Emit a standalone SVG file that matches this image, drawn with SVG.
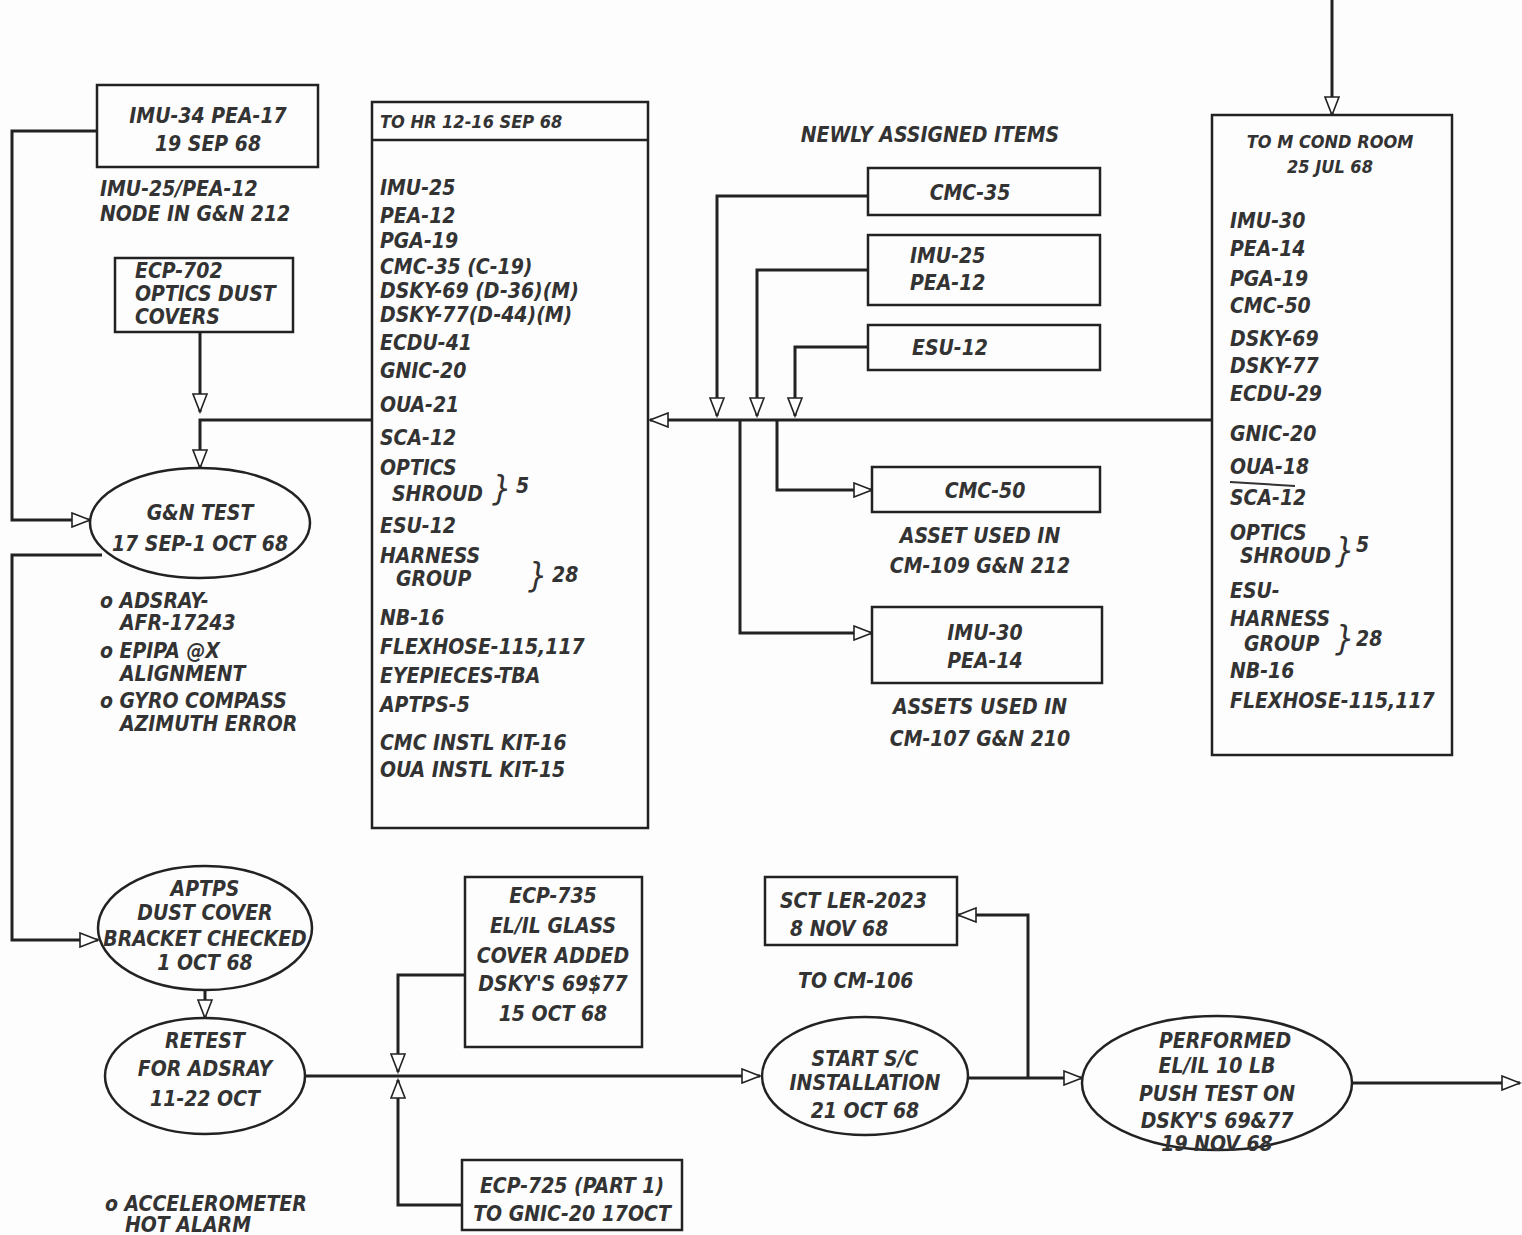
<svg xmlns="http://www.w3.org/2000/svg" width="1522" height="1235" viewBox="0 0 1522 1235">
<style>
.t{font-family:"DejaVu Sans Condensed","Liberation Sans",sans-serif;font-style:italic;font-weight:bold;font-size:21px;fill:#333}
.s{font-size:18px}
.b{font-size:34px;font-weight:normal}
.c{text-anchor:middle}
.box{fill:#fdfdfd;stroke:#222;stroke-width:2.5}
.ln{fill:none;stroke:#222;stroke-width:3}
</style>
<defs>
<marker id="ar" markerUnits="userSpaceOnUse" markerWidth="22" markerHeight="16" refX="19" refY="8" orient="auto">
<path d="M1,1 L19,8 L1,15 Z" fill="#fff" stroke="#222" stroke-width="1.6"/>
</marker>
</defs>
<rect width="1522" height="1235" fill="#fdfdfd"/>

<g id="connectors">
<path class="ln" d="M97,131 H12 V520 H90" marker-end="url(#ar)"/>
<path class="ln" d="M102,555 H12 V940 H98" marker-end="url(#ar)"/>
<path class="ln" d="M200,332 V412" marker-end="url(#ar)"/>
<path class="ln" d="M372,420 H200 V468" marker-end="url(#ar)"/>
<path class="ln" d="M1212,420 H650" marker-end="url(#ar)"/>
<path class="ln" d="M868,196 H717 V416" marker-end="url(#ar)"/>
<path class="ln" d="M868,270 H757 V416" marker-end="url(#ar)"/>
<path class="ln" d="M868,347 H795 V416" marker-end="url(#ar)"/>
<path class="ln" d="M777,420 V490 H872" marker-end="url(#ar)"/>
<path class="ln" d="M740,420 V633 H872" marker-end="url(#ar)"/>
<path class="ln" d="M1332,0 V115" marker-end="url(#ar)"/>
<path class="ln" d="M205,990 V1018" marker-end="url(#ar)"/>
<path class="ln" d="M305,1076 H760" marker-end="url(#ar)"/>
<path class="ln" d="M465,975 H398 V1072" marker-end="url(#ar)"/>
<path class="ln" d="M462,1205 H398 V1080" marker-end="url(#ar)"/>
<path class="ln" d="M968,1078 H1082" marker-end="url(#ar)"/>
<path class="ln" d="M1028,1078 V915 H958" marker-end="url(#ar)"/>
<path class="ln" d="M1352,1083 H1520" marker-end="url(#ar)"/>
</g>

<g id="imu34">
<rect class="box" x="97" y="85" width="221" height="82"/>
<text class="t c" x="208" y="123">IMU-34 PEA-17</text>
<text class="t c" x="208" y="151">19 SEP 68</text>
</g>
<g id="note-imu25">
<text class="t" x="100" y="196">IMU-25/PEA-12</text>
<text class="t" x="100" y="221">NODE IN G&amp;N 212</text>
</g>
<g id="ecp702">
<rect class="box" x="115" y="258" width="178" height="74"/>
<text class="t" x="135" y="278">ECP-702</text>
<text class="t" x="135" y="301">OPTICS DUST</text>
<text class="t" x="135" y="324">COVERS</text>
</g>

<g id="gn-test">
<ellipse class="box" cx="200" cy="523" rx="110" ry="55"/>
<text class="t c" x="200" y="520">G&amp;N TEST</text>
<text class="t c" x="200" y="551">17 SEP-1 OCT 68</text>
</g>
<g id="gn-notes">
<text class="t" x="100" y="608">o ADSRAY-</text>
<text class="t" x="120" y="630">AFR-17243</text>
<text class="t" x="100" y="658">o EPIPA @X</text>
<text class="t" x="120" y="681">ALIGNMENT</text>
<text class="t" x="100" y="708">o GYRO COMPASS</text>
<text class="t" x="120" y="731">AZIMUTH ERROR</text>
</g>

<g id="to-hr">
<rect class="box" x="372" y="102" width="276" height="726"/>
<line x1="372" y1="140" x2="648" y2="140" stroke="#222" stroke-width="2.5"/>
<text class="t s" x="380" y="128">TO HR  12-16 SEP 68</text>
<text class="t" x="380" y="195">IMU-25</text>
<text class="t" x="380" y="223">PEA-12</text>
<text class="t" x="380" y="248">PGA-19</text>
<text class="t" x="380" y="274">CMC-35 (C-19)</text>
<text class="t" x="380" y="298">DSKY-69 (D-36)(M)</text>
<text class="t" x="380" y="322">DSKY-77(D-44)(M)</text>
<text class="t" x="380" y="350">ECDU-41</text>
<text class="t" x="380" y="378">GNIC-20</text>
<text class="t" x="380" y="412">OUA-21</text>
<text class="t" x="380" y="445">SCA-12</text>
<text class="t" x="380" y="475">OPTICS</text>
<text class="t" x="392" y="501">SHROUD</text>
<text class="t b" x="492" y="500">}</text>
<text class="t" x="516" y="493">5</text>
<text class="t" x="380" y="533">ESU-12</text>
<text class="t" x="380" y="563">HARNESS</text>
<text class="t" x="396" y="586">GROUP</text>
<text class="t b" x="528" y="587">}</text>
<text class="t" x="552" y="582">28</text>
<text class="t" x="380" y="625">NB-16</text>
<text class="t" x="380" y="654">FLEXHOSE-115,117</text>
<text class="t" x="380" y="683">EYEPIECES-TBA</text>
<text class="t" x="380" y="712">APTPS-5</text>
<text class="t" x="380" y="750">CMC INSTL KIT-16</text>
<text class="t" x="380" y="777">OUA INSTL KIT-15</text>
</g>

<g id="newly-label">
<text class="t c" x="930" y="142">NEWLY ASSIGNED ITEMS</text>
</g>
<g id="cmc35">
<rect class="box" x="868" y="168" width="232" height="47"/>
<text class="t c" x="970" y="200">CMC-35</text>
</g>
<g id="imu25">
<rect class="box" x="868" y="235" width="232" height="70"/>
<text class="t" x="910" y="263">IMU-25</text>
<text class="t" x="910" y="290">PEA-12</text>
</g>
<g id="esu12">
<rect class="box" x="868" y="325" width="232" height="45"/>
<text class="t" x="912" y="355">ESU-12</text>
</g>
<g id="cmc50">
<rect class="box" x="872" y="467" width="228" height="45"/>
<text class="t c" x="985" y="498">CMC-50</text>
<text class="t c" x="980" y="543">ASSET USED IN</text>
<text class="t c" x="980" y="573">CM-109 G&amp;N 212</text>
</g>
<g id="imu30">
<rect class="box" x="872" y="607" width="230" height="76"/>
<text class="t c" x="985" y="640">IMU-30</text>
<text class="t c" x="985" y="668">PEA-14</text>
<text class="t c" x="980" y="714">ASSETS USED IN</text>
<text class="t c" x="980" y="746">CM-107 G&amp;N 210</text>
</g>

<g id="to-m">
<rect class="box" x="1212" y="115" width="240" height="640"/>
<text class="t s c" x="1330" y="148">TO M  COND ROOM</text>
<text class="t s c" x="1330" y="173">25 JUL 68</text>
<text class="t" x="1230" y="228">IMU-30</text>
<text class="t" x="1230" y="256">PEA-14</text>
<text class="t" x="1230" y="286">PGA-19</text>
<text class="t" x="1230" y="313">CMC-50</text>
<text class="t" x="1230" y="346">DSKY-69</text>
<text class="t" x="1230" y="373">DSKY-77</text>
<text class="t" x="1230" y="401">ECDU-29</text>
<text class="t" x="1230" y="441">GNIC-20</text>
<text class="t" x="1230" y="474">OUA-18</text>
<text class="t" x="1230" y="505">SCA-12</text>
<line x1="1230" y1="482" x2="1295" y2="486" stroke="#333" stroke-width="2"/>
<text class="t" x="1230" y="540">OPTICS</text>
<text class="t" x="1240" y="563">SHROUD</text>
<text class="t b" x="1335" y="562">}</text>
<text class="t" x="1356" y="552">5</text>
<text class="t" x="1230" y="598">ESU-</text>
<text class="t" x="1230" y="626">HARNESS</text>
<text class="t" x="1244" y="651">GROUP</text>
<text class="t b" x="1335" y="650">}</text>
<text class="t" x="1356" y="646">28</text>
<text class="t" x="1230" y="678">NB-16</text>
<text class="t" x="1230" y="708">FLEXHOSE-115,117</text>
</g>

<g id="aptps">
<ellipse class="box" cx="205" cy="928" rx="107" ry="62"/>
<text class="t c" x="205" y="896">APTPS</text>
<text class="t c" x="205" y="920">DUST COVER</text>
<text class="t c" x="205" y="946">BRACKET CHECKED</text>
<text class="t c" x="205" y="970">1 OCT 68</text>
</g>
<g id="retest">
<ellipse class="box" cx="205" cy="1076" rx="100" ry="58"/>
<text class="t c" x="205" y="1048">RETEST</text>
<text class="t c" x="205" y="1076">FOR ADSRAY</text>
<text class="t c" x="205" y="1106">11-22 OCT</text>
<text class="t" x="105" y="1211">o ACCELEROMETER</text>
<text class="t" x="125" y="1232">HOT ALARM</text>
</g>
<g id="ecp735">
<rect class="box" x="465" y="877" width="177" height="170"/>
<text class="t c" x="553" y="903">ECP-735</text>
<text class="t c" x="553" y="933">EL/IL GLASS</text>
<text class="t c" x="553" y="963">COVER ADDED</text>
<text class="t c" x="553" y="991">DSKY'S 69$77</text>
<text class="t c" x="553" y="1021">15 OCT 68</text>
</g>
<g id="ecp725">
<rect class="box" x="462" y="1160" width="220" height="70"/>
<text class="t c" x="572" y="1193">ECP-725 (PART 1)</text>
<text class="t c" x="572" y="1221">TO GNIC-20 17OCT</text>
</g>
<g id="start-sc">
<ellipse class="box" cx="865" cy="1076" rx="103" ry="59"/>
<text class="t c" x="865" y="1066">START S/C</text>
<text class="t c" x="865" y="1090">INSTALLATION</text>
<text class="t c" x="865" y="1118">21 OCT 68</text>
</g>
<g id="sct">
<rect class="box" x="765" y="877" width="192" height="68"/>
<text class="t" x="780" y="908">SCT LER-2023</text>
<text class="t" x="790" y="936">8 NOV 68</text>
<text class="t" x="798" y="988">TO CM-106</text>
</g>
<g id="performed">
<ellipse class="box" cx="1217" cy="1083" rx="135" ry="67"/>
<text class="t c" x="1225" y="1048">PERFORMED</text>
<text class="t c" x="1217" y="1073">EL/IL  10 LB</text>
<text class="t c" x="1217" y="1101">PUSH TEST ON</text>
<text class="t c" x="1217" y="1128">DSKY'S 69&amp;77</text>
<text class="t c" x="1217" y="1151">19 NOV 68</text>
</g>
</svg>
